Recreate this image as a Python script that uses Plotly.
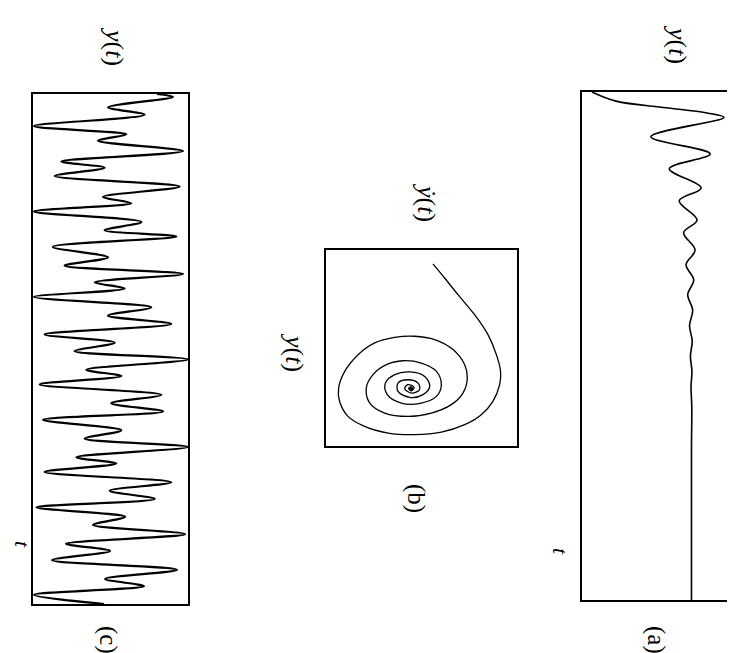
import plotly.graph_objects as go

# ---------------- data ----------------
# Panel (c): chaotic signal y(t); t in arbitrary units 0..100, y as fraction of box
c_t = [0, 0.57, 2.61, 4.08, 6.29, 7.92, 9.15, 11.19, 13.24, 14.46, 16.09, 18.14, 20.18,
       21.41, 23.04, 25.08, 26.72, 27.94, 29.98, 32.03, 33.66, 35.29, 36.93, 38.15, 39.79,
       41.83, 43.46, 45.10, 47.14, 48.77, 50.41, 52.04, 54.08, 55.31, 56.94, 58.99, 60.62,
       62.25, 63.89, 65.93, 67.57, 69.20, 71.24, 72.47, 74.10, 76.14, 77.78, 79.41, 81.05,
       82.9, 84.5, 86.3, 88.2, 89.6, 91.4, 93.3, 95.1, 96.5, 98.2, 100]
c_y = [0.80, 0.903, 0.484, 0.720, 0.006, 0.602, 0.419, 0.968, 0.183, 0.462, 0.140, 0.946,
       0.452, 0.634, 0.006, 0.699, 0.462, 0.925, 0.129, 0.484, 0.204, 0.968, 0.398, 0.591,
       0.006, 0.763, 0.484, 0.892, 0.075, 0.527, 0.269, 1.0, 0.344, 0.570, 0.043, 0.828,
       0.505, 0.839, 0.065, 0.570, 0.333, 1.0, 0.280, 0.538, 0.075, 0.892, 0.495, 0.785,
       0.022, 0.594, 0.387, 0.981, 0.213, 0.497, 0.123, 0.929, 0.465, 0.716, 0.006, 0.458]

# Panel (a): damped response y(t)
a_t = [0, 1.8, 3.1, 4.1, 5.0, 8.8, 12.2, 15.1, 18.9, 21.4, 25.2, 27.7, 31.1, 34.0, 37.0,
       39.9, 42.9, 46.0, 49.0, 52.0, 55.0, 58.0, 62.0, 70.0, 100.0]
a_y = [0.066, 0.225, 0.556, 0.82, 0.94, 0.456, 0.849, 0.578, 0.789, 0.644, 0.762, 0.673,
       0.749, 0.689, 0.740, 0.700, 0.733, 0.712, 0.730, 0.718, 0.728, 0.722, 0.727, 0.725,
       0.725]

# Panel (b): phase portrait (horizontal = y-dot, vertical = y), fractions of the box
b_ydot = [0.560, 0.621, 0.691, 0.778, 0.848, 0.892, 0.914, 0.909, 0.874, 0.813, 0.726,
          0.604, 0.464, 0.325, 0.202, 0.115, 0.071, 0.066, 0.098, 0.168, 0.255, 0.359,
          0.464, 0.569, 0.665, 0.726, 0.740, 0.717, 0.656, 0.551, 0.429, 0.307, 0.229,
          0.211, 0.246, 0.316, 0.403, 0.499, 0.578, 0.604, 0.578, 0.499, 0.394, 0.321,
          0.311, 0.360, 0.438, 0.517, 0.543, 0.508, 0.438, 0.377, 0.377, 0.429, 0.482,
          0.490, 0.447, 0.412, 0.429, 0.461, 0.447, 0.433, 0.443, 0.452, 0.445, 0.438,
          0.442, 0.447, 0.444]
b_y = [0.071, 0.143, 0.228, 0.330, 0.432, 0.534, 0.619, 0.687, 0.772, 0.840, 0.891,
       0.929, 0.942, 0.934, 0.900, 0.849, 0.772, 0.704, 0.619, 0.534, 0.474, 0.446,
       0.440, 0.457, 0.508, 0.585, 0.653, 0.730, 0.789, 0.832, 0.849, 0.832, 0.781,
       0.704, 0.636, 0.585, 0.565, 0.577, 0.619, 0.687, 0.747, 0.781, 0.781, 0.738,
       0.679, 0.636, 0.622, 0.645, 0.696, 0.738, 0.752, 0.721, 0.679, 0.662, 0.679,
       0.713, 0.730, 0.707, 0.687, 0.701, 0.718, 0.707, 0.698, 0.704, 0.712, 0.707,
       0.701, 0.705, 0.708]

# ---------------- figure ----------------
W, H = 735, 653

def dom_x(x0, x1):
    return [x0 / W, x1 / W]

def dom_y(y0, y1):
    return [1 - y1 / H, 1 - y0 / H]

fig = go.Figure()
fig.add_trace(go.Scatter(x=c_y, y=c_t, mode="lines", xaxis="x", yaxis="y",
                         line=dict(color="black", width=2.2, shape="spline", smoothing=0.9)))
fig.add_trace(go.Scatter(x=b_ydot, y=b_y, mode="lines", xaxis="x2", yaxis="y2",
                         line=dict(color="black", width=1.3, shape="spline", smoothing=1.0)))
fig.add_trace(go.Scatter(x=a_y, y=a_t, mode="lines", xaxis="x3", yaxis="y3",
                         line=dict(color="black", width=1.6, shape="spline", smoothing=1.0)))

ax = dict(showline=True, mirror=True, linecolor="black", showticklabels=False,
          ticks="", showgrid=False, zeroline=False, fixedrange=True)

fig.update_layout(
    width=W, height=H, margin=dict(l=0, r=0, t=0, b=0),
    paper_bgcolor="white", plot_bgcolor="white", showlegend=False,
    xaxis=dict(ax, domain=dom_x(25, 180), range=[0, 1], anchor="y", linewidth=2),
    yaxis=dict(ax, domain=dom_y(86, 596), range=[100, 0], anchor="x", linewidth=2),
    xaxis2=dict(ax, domain=dom_x(318, 509), range=[0, 1], anchor="y2", linewidth=1.5),
    yaxis2=dict(ax, domain=dom_y(242, 438), range=[1, 0], anchor="x2", linewidth=1.5),
    xaxis3=dict(ax, domain=dom_x(574, 725), range=[0, 1], anchor="y3", linewidth=1.5),
    yaxis3=dict(ax, domain=dom_y(84, 592), range=[100, 0], anchor="x3", linewidth=1.5),
)

it = dict(family="Liberation Serif", size=26, color="black")
ts = dict(family="Liberation Serif", size=22, color="black")
up = dict(family="Liberation Serif", size=25, color="black")

def label(x, y, text, font):
    fig.add_annotation(x=x / W, y=1 - y / H, xref="paper", yref="paper", text=text,
                       showarrow=False, textangle=90, font=font,
                       xanchor="center", yanchor="middle", borderpad=0)

label(106, 38, "<i>y</i>(<i>t</i>)", it)
label(15, 537, "<i>t</i>", ts)
label(100, 632, "(c)", up)
label(287, 344, "<i>y</i>(<i>t</i>)", it)
label(418, 194, "<i>ẏ</i>(<i>t</i>)", it)
label(408, 490, "(b)", up)
label(670, 36, "<i>y</i>(<i>t</i>)", it)
label(553, 543, "<i>t</i>", ts)
label(648, 632, "(a)", up)

fig.write_html("out.html")
